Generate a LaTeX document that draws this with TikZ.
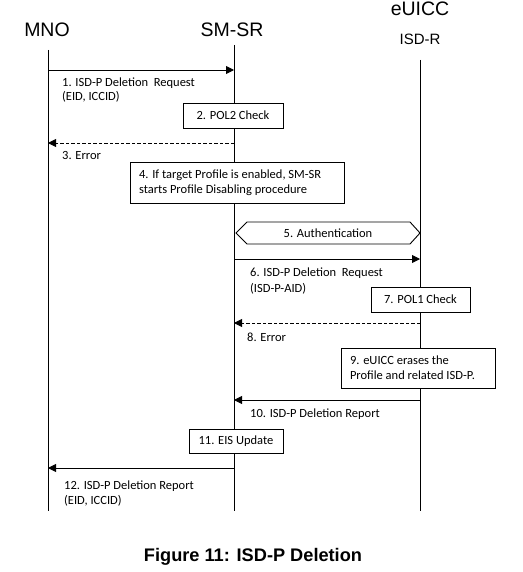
\documentclass[tikz,border=0pt]{standalone}
\usepackage{fontspec}
\setmainfont{Carlito}
\newfontfamily\arialfont{Liberation Sans}
\usetikzlibrary{arrows.meta}
\tikzset{
  life/.style={line width=0.9pt},
  msg/.style={line width=0.9pt,-{Triangle[length=8pt,width=8pt]}},
  errmsg/.style={msg,dash pattern=on 3.5pt off 2pt},
  lbl/.style={anchor=base west,inner sep=0pt,font=\fontsize{12.5}{14}\selectfont},
  box/.style={draw,line width=0.9pt,fill=white,inner sep=0pt,font=\fontsize{12.5}{15}\selectfont},
  head/.style={inner sep=0pt,anchor=base,font=\arialfont\fontsize{19.5}{22}\selectfont},
}
\begin{document}
\begin{tikzpicture}[x=1pt,y=-1pt]
\useasboundingbox (0,0) rectangle (522,572);
% headers
\node[head] (mno) at (47,37) {MNO};
\node[head] (smsr) at (232,37) {SM-SR};
\node[head] (euicc) at (420,16) {eUICC};
\node[head,font=\arialfont\fontsize{15}{18}\selectfont] (isdr) at (420,45) {ISD-R};
% lifeline coordinates
\coordinate (mT) at (48,50);  \coordinate (mB) at (48,511);
\coordinate (sT) at (234,45); \coordinate (sB) at (234,511);
\coordinate (rT) at (420,60); \coordinate (rB) at (420,511);
\draw[life] (mT) -- (mB);
\draw[life] (sT) -- (sB);
\draw[life] (rT) -- (rB);
% 1
\coordinate (m1) at (48,70); \coordinate (s1) at (234,70);
\draw[msg] (m1) -- (s1);
\node[lbl] (l1a) at (62,87) {1. ISD-P Deletion\ \ Request};
\node[lbl] (l1b) at (62,101) {(EID, ICCID)};
% 2
\node[box,minimum width=100pt,minimum height=25pt] (b2) at (233,115.5) {2. POL2 Check};
% 3
\coordinate (s3) at (234,143); \coordinate (m3) at (48,143);
\draw[errmsg] (s3) -- (m3);
\node[lbl] (l3) at (62,160) {3. Error};
% 4
\node[box,minimum width=214pt,minimum height=41pt,text width=196pt,align=flush left] (b4) at (237,182.5)
  {4. If target Profile is enabled, SM-SR\\starts Profile Disabling procedure};
% 5
\coordinate (h1) at (236,233); \coordinate (h2) at (247,222); \coordinate (h3) at (410,222);
\coordinate (h4) at (420,233); \coordinate (h5) at (410,244); \coordinate (h6) at (247,244);
\draw[line width=0.9pt,fill=white] (h1) -- (h2) -- (h3) -- (h4) -- (h5) -- (h6) -- cycle;
\node[inner sep=0pt,font=\fontsize{12.5}{14}\selectfont] (l5) at (328,233) {5. Authentication};
% 6
\coordinate (s6) at (234,259); \coordinate (r6) at (420,259);
\draw[msg] (s6) -- (r6);
\node[lbl] (l6a) at (250,276) {6. ISD-P Deletion\ \ Request};
\node[lbl] (l6b) at (250,292) {(ISD-P-AID)};
% 7
\node[box,minimum width=99pt,minimum height=25pt] (b7) at (420.5,299.5) {7. POL1 Check};
% 8
\coordinate (r8) at (420,323); \coordinate (s8) at (234,323);
\draw[errmsg] (r8) -- (s8);
\node[lbl] (l8) at (247,341) {8. Error};
% 9
\node[box,minimum width=154pt,minimum height=40pt,text width=136pt,align=flush left] (b9) at (418,368)
  {9. eUICC erases the\\Profile and related ISD-P.};
% 10
\coordinate (r10) at (420,400); \coordinate (s10) at (234,400);
\draw[msg] (r10) -- (s10);
\node[lbl] (l10) at (250,417) {10. ISD-P Deletion Report};
% 11
\node[box,minimum width=94pt,minimum height=24pt] (b11) at (236,441) {11. EIS Update};
% 12
\coordinate (s12) at (234,468); \coordinate (m12) at (48,468);
\draw[msg] (s12) -- (m12);
\node[lbl] (l12a) at (64,489) {12. ISD-P Deletion Report};
\node[lbl] (l12b) at (64,504) {(EID, ICCID)};
% caption
\node[inner sep=0pt,anchor=base,font=\arialfont\bfseries\fontsize{18.2}{20}\selectfont] (cap) at (253,561.5) {Figure 11: ISD-P Deletion};
\end{tikzpicture}
\end{document}
